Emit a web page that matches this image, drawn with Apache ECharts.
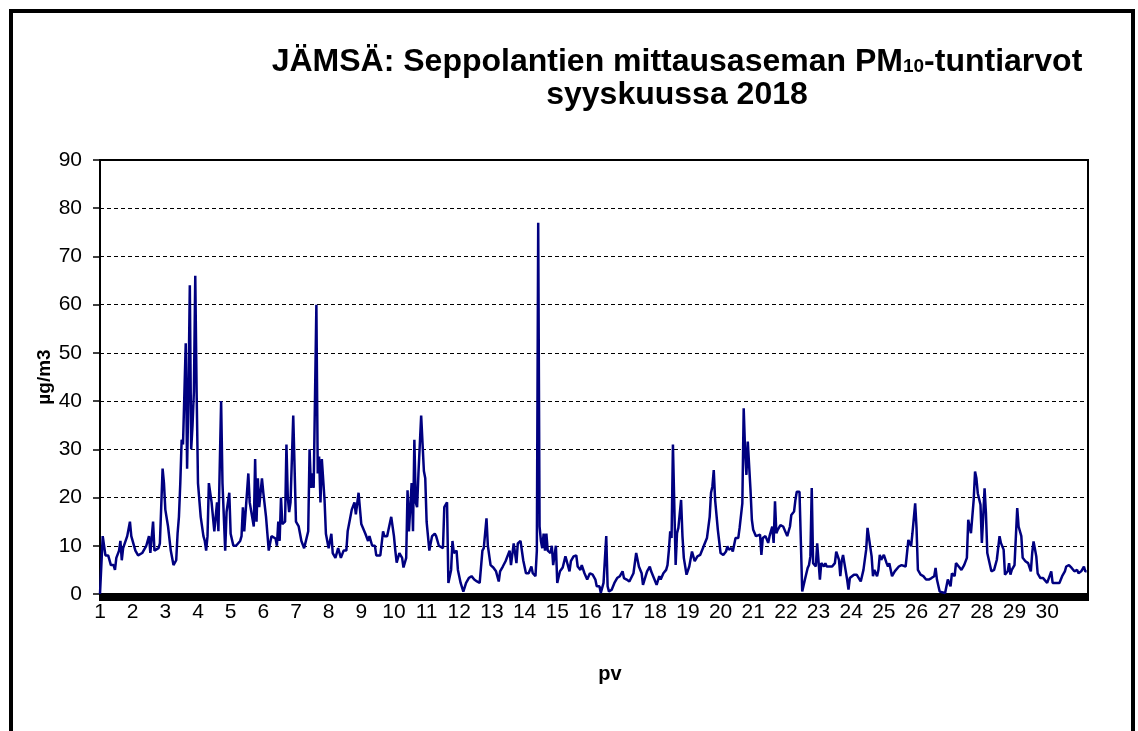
<!DOCTYPE html>
<html>
<head>
<meta charset="utf-8">
<script src="https://cdn.jsdelivr.net/npm/echarts@6/dist/echarts.min.js"></script>
<style>
  html, body { margin: 0; padding: 0; background: #fff; }
  #chart { width: 1138px; height: 731px; }
</style>
</head>
<body>
<div id="chart"></div>
<script>
// hour of month (0 = 1.9. klo 00) and PM10 value
var hours = [
  0, 2, 4, 6, 8, 10, 11, 12, 14, 15, 16, 17, 20, 22, 23, 26, 28, 31, 34, 36, 37, 39, 40, 43, 44,
  46, 47, 48, 50, 52, 54, 56, 57, 58, 59, 60, 61, 63, 64, 65, 66, 67, 68, 69, 70, 71, 72, 74, 76, 77,
  78, 79, 80, 82, 84, 86, 87, 89, 90, 92, 93, 95, 96, 98, 100, 103, 104, 105, 106, 109, 110, 113, 114, 115, 116,
  117, 119, 120, 122, 124,
  125, 126, 129, 130, 131, 132, 133, 134, 136, 137, 138, 139, 140, 142, 144, 146, 148, 150, 151, 153, 154, 155, 156, 157, 159,
  160, 161, 162, 163, 165, 166, 168, 170, 171, 173, 175, 177, 179, 181, 182, 185, 187, 188, 190, 191, 192, 195, 197, 198, 200,
  202, 203, 206, 208, 209, 211, 214, 216, 217, 218, 220, 222, 223, 225, 226, 227, 229, 230, 231, 232, 233, 234, 236, 238, 239,
  240, 241, 242, 244, 246,
  247, 249, 252, 253, 255, 256, 258, 259, 260, 262, 263, 265, 267, 269, 271, 273, 275, 277, 279, 281, 282, 284, 285, 287, 289,
  291, 293, 294, 296, 298, 299, 301, 302, 304, 306, 307, 309, 311, 313, 315, 317, 318, 320, 321, 322, 323, 324, 325, 326, 327,
  328, 329, 331, 332, 333, 335, 336, 338, 340, 342, 343, 345, 346, 348, 350, 351, 353, 354, 356, 358, 360, 362, 364, 365, 367,
  368, 370, 372, 373, 374, 376, 378, 380, 382, 384, 385, 387, 389, 392, 394, 396, 398, 399, 402, 404, 405, 407, 409, 411, 412,
  414, 416, 417, 418, 419, 420, 421, 423, 424, 425, 427, 428, 429, 431, 433, 435, 436, 437, 439, 441, 443, 444, 446, 448, 449,
  450, 451, 452, 454, 456, 458, 460, 461, 462, 464, 465, 467, 469, 470, 472, 473, 474, 475, 476, 478, 479, 480, 482, 483, 485,
  486, 487, 489,
  491, 492, 494, 495, 496, 497, 498, 500, 501, 502, 503, 505, 507, 508, 510, 511, 512, 514, 515, 516, 518, 520, 521, 522, 523,
  524, 526, 527, 529, 530, 532, 533, 534, 536, 538, 540, 541, 543, 544, 545, 546, 547, 549, 550, 551, 554, 556, 557, 559, 561,
  563, 564, 565, 567, 568, 569, 571, 572, 573, 574, 576, 578, 579, 580, 582, 584, 585, 587, 589, 592, 593, 594, 596, 597, 599,
  600, 601, 603, 605, 607, 609, 610,
  611, 613, 614, 615, 617, 621, 623, 625, 626, 628, 629, 631, 633, 635, 637, 638, 639, 640, 642, 643, 644, 645, 647, 648, 649,
  650, 651, 652, 653, 655, 657, 659, 661, 662, 664, 665, 667, 668, 669, 670, 672, 674, 675, 677, 678, 680, 682, 684, 685, 686,
  688, 689, 691, 693, 694, 696, 697, 699, 700, 701, 703, 705, 707, 709, 710, 712, 714, 716, 718, 719, 721, 723, 724, 725
];
var pm10 = [
  0, 12, 8, 8, 6, 6, 5, 7.5, 9, 11, 7, 9.5, 12, 15, 12, 9, 8, 8.5, 10, 12, 8.5, 15, 9, 9.5, 10.5,
  26, 23, 17.5, 14, 9, 6, 7, 12.5, 16, 23, 32, 31, 52, 26, 42, 64, 30, 35, 42, 66, 42, 23, 16, 12, 11,
  9, 12, 23, 19, 13, 19, 13, 40, 23, 9, 17, 21, 12.5, 10, 10, 11, 12, 18, 13, 25, 19, 14, 28, 15, 24,
  18, 24, 21, 16, 9,
  9, 12, 11.5, 10, 15, 11, 20, 14.5, 15, 31, 20, 17, 19, 37, 15, 14, 11, 9.5, 9.5, 13, 30, 22, 25, 22, 60,
  25, 28.5, 19, 28, 19.5, 12.5, 9.5, 12.5, 8.5, 7.5, 9.5, 7.5, 9, 9, 13, 17.5, 19, 16.5, 21, 21, 14.5, 12.5, 11, 12, 10,
  10, 8, 8, 13, 12, 12, 16, 12, 9, 6.5, 8.5, 7.5, 5.5, 7.5, 21.5, 13, 23, 13, 32, 19, 18, 25, 37, 25.5, 24,
  15, 12, 9, 12, 12.5,
  12, 10, 9.5, 18, 19, 2.3, 5, 11, 8.5, 9, 5, 2.3, 0.5, 2.3, 3.3, 3.7, 3, 2.6, 2.3, 9, 9.5, 15.7, 10, 6, 5.5,
  4.7, 2.6, 4.7, 5.7, 6.8, 6.4, 9, 6, 10.5, 6.4, 10.5, 11, 7, 4.3, 4.3, 5.7, 4.3, 3.7, 9, 77, 14, 11, 9.5, 12.5, 9,
  12.5, 9, 8.5, 10, 6, 10, 2.3, 4.7, 5.5, 7.8, 6.8, 4.7, 6.8, 7.8, 8, 5.7, 5, 6, 4.3, 3, 4.3, 4, 3, 1.6, 1.6,
  0.2, 2.3, 12, 1.6, 0.5, 0.9, 2.3, 3.3, 3.7, 4.7, 3.3, 3, 2.6, 4.3, 8.5, 5.7, 4.3, 1.9, 4.7, 5.7, 4.7, 3.3, 1.9, 3.7, 3,
  4.3, 5, 6, 9, 13, 11.6, 31, 6, 12.6, 13.7, 19.5, 12, 7.5, 4, 5.7, 8.8, 9.2, 6.8, 7.8, 8.1, 9.5, 10.2, 11.6, 16, 21,
  22.3, 25.7, 19.5, 13.3, 8.5, 8.1, 8.8, 9.9, 9.2, 9.5, 8.8, 11.6, 11.6, 13.7, 18.8, 38.5, 29.9, 24.7, 31.6, 21.6, 15.4, 13.3, 12, 12, 12.3,
  8.1, 11.6, 12,
  10.6, 12, 14, 10.6, 19.2, 12.6, 13.3, 14.3, 14, 14, 13.7, 12, 14, 16.4, 17.1, 19.5, 21.2, 21.2, 21, 0.5, 3, 5.4, 6, 7.8, 22,
  6.4, 5.7, 10.5, 3, 6.4, 5.7, 6.4, 5.7, 5.7, 5.7, 6.4, 8.8, 7.1, 3.7, 6.8, 8.1, 6.4, 3, 0.9, 3.3, 4, 4, 4.3, 2.6, 5,
  9.2, 13.7, 13.3, 7.8, 3.7, 5, 3.7, 5, 8.1, 7.1, 8.1, 6.4, 5.7, 6.4, 3.7, 4.7, 5, 5.7, 6, 5.7, 5.7, 11.2, 9.9, 12.6, 18.8,
  13.7, 5, 4, 3.7, 3, 3, 3,
  3.3, 3.7, 5.4, 3, 0.5, 0.2, 3, 1.6, 4.3, 3.7, 6.4, 5.7, 5, 6, 7.5, 15.4, 15.7, 12.6, 19.5, 25.4, 24, 20.9, 18.5, 10.6, 16,
  21.9, 16.8, 8.5, 8.1, 4.7, 5, 7.1, 12, 10.6, 9.2, 4, 4.7, 6.4, 4, 5, 6, 17.8, 14, 12, 7.5, 6.8, 6.4, 4.7, 8.5, 10.9,
  7.8, 4.3, 3.3, 3.3, 3, 2.3, 2.6, 4.7, 2.3, 2.6, 2.3, 2.3, 3.7, 4.7, 5.7, 6, 5.4, 4.7, 5, 4.3, 4.7, 5.7, 4.7, 4.7
];

var chartTitle = 'JÄMSÄ: Seppolantien mittausaseman PM{sub|10}-tuntiarvot\nsyyskuussa 2018';
var yName = 'µg/m3';
var xName = 'pv';

var font = '"Liberation Sans", Arial, sans-serif';
var data = hours.map(function (h, i) { return [h, pm10[i]]; });

var chart = echarts.init(document.getElementById('chart'));
var option = {
  animation: false,
  backgroundColor: '#fff',
  title: {
    text: chartTitle,
    left: 672,
    top: 41,
    textAlign: 'center',
    textStyle: {
      fontFamily: font,
      fontSize: 32,
      fontWeight: 'bold',
      color: '#000',
      lineHeight: 33,
      rich: {
        sub: { fontFamily: font, fontSize: 19, fontWeight: 'bold', color: '#000', verticalAlign: 'bottom', lineHeight: 33, padding: [0, 0, 3, 0] }
      }
    }
  },
  graphic: [{
    type: 'rect',
    silent: true,
    shape: { x: 11, y: 11, width: 1122, height: 760 },
    style: { fill: null, stroke: '#000', lineWidth: 4 }
  }],
  grid: {
    left: 100, right: 50, top: 160, bottom: 137,
    show: true, borderColor: '#000', borderWidth: 2
  },
  xAxis: {
    type: 'value',
    min: 0,
    max: 726,
    interval: 24,
    name: xName,
    nameLocation: 'middle',
    nameGap: 70,
    nameTextStyle: { fontFamily: font, fontSize: 20, fontWeight: 'bold', color: '#000', padding: [0, 0, 0, 32] },
    axisLine: { lineStyle: { color: '#000', width: 2 } },
    axisTick: { length: 7, lineStyle: { color: '#000', width: 2 } },
    minorTick: { show: true, splitNumber: 24, length: 7, lineStyle: { color: '#000', width: 2 } },
    splitLine: { show: false },
    axisLabel: {
      fontFamily: font, fontSize: 21, color: '#000', margin: 8, showMaxLabel: false,
      formatter: function (v) { return v < 720 ? String(v / 24 + 1) : ''; }
    }
  },
  yAxis: {
    type: 'value',
    min: 0,
    max: 90,
    interval: 10,
    name: yName,
    nameLocation: 'middle',
    nameGap: 46,
    nameMoveOverlap: false,
    nameTextStyle: { fontFamily: font, fontSize: 19, fontWeight: 'bold', color: '#000' },
    axisLine: { show: true, lineStyle: { color: '#000', width: 2 } },
    axisTick: { show: true, length: 7, lineStyle: { color: '#000', width: 1.5 } },
    axisLabel: { fontFamily: font, fontSize: 21, color: '#000', margin: 18 },
    splitLine: { lineStyle: { color: '#000', width: 1, type: [4, 3] } }
  },
  series: [{
    type: 'line',
    data: data,
    showSymbol: false,
    lineStyle: { color: '#000080', width: 2.5 },
    itemStyle: { color: '#000080' }
  }]
};
chart.setOption(option);
</script>
</body>
</html>
